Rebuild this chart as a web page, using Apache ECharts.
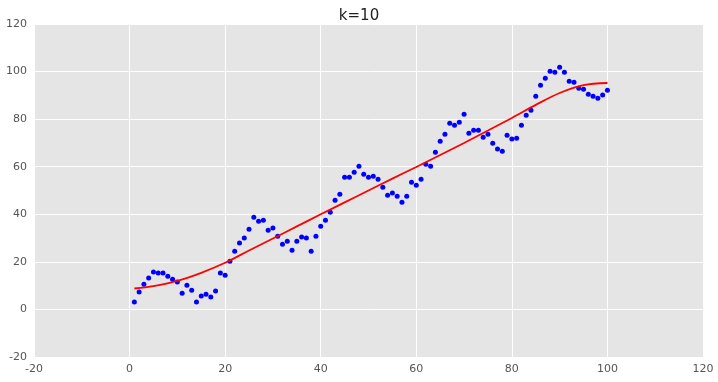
<!DOCTYPE html>
<html>
<head>
<meta charset="utf-8">
<script src="https://cdn.jsdelivr.net/npm/echarts@6/dist/echarts.min.js"></script>
<style>
html,body{margin:0;padding:0;background:#fff;}
#chart{width:718px;height:382px;}
</style>
</head>
<body>
<div id="chart"></div>
<script>
// Scatter observations (x = 1..100)
var pointY = [
  3.1, 7.3, 10.6, 13.2, 15.7, 15.3, 15.3, 14.0, 12.7, 11.5,
  6.8, 10.2, 8.1, 3.1, 5.6, 6.4, 5.2, 7.7, 15.3, 14.4,
  20.3, 24.5, 27.9, 30.0, 33.7, 38.8, 37.1, 37.5, 33.3, 34.2,
  30.8, 27.4, 28.7, 24.9, 28.7, 30.4, 30.0, 24.5, 30.8, 35.0,
  37.5, 40.9, 45.9, 48.4, 55.6, 55.6, 57.7, 60.2, 56.8, 55.6,
  56.0, 54.7, 51.4, 48.0, 48.9, 47.6, 45.1, 47.6, 53.5, 52.2,
  54.7, 61.0, 60.2, 66.1, 70.7, 73.7, 78.3, 77.4, 78.7, 82.1,
  74.1, 75.3, 75.3, 72.4, 73.7, 69.9, 67.4, 66.5, 73.2, 71.6,
  72.0, 77.4, 81.6, 83.7, 89.6, 94.2, 97.2, 100.1, 99.7, 101.8,
  99.7, 95.9, 95.5, 93.0, 92.6, 90.5, 89.6, 88.8, 90.1, 92.1
];
var firstX = 1;

// Fitted curve samples
var curveX = [1, 5, 10, 15, 20, 25, 30, 35, 40, 45, 50, 55, 60, 65, 70, 75, 80, 85, 90, 95, 100];
var curveY = [8.8, 9.8, 12.0, 15.4, 19.6, 24.8, 29.8, 34.9, 40.0, 45.0, 50.0, 55.0, 59.9, 64.9, 70.0, 75.2, 80.5, 86.0, 91.0, 94.3, 95.2];

var xTicks = [-20, 0, 20, 40, 60, 80, 100, 120];
var yTicks = [-20, 0, 20, 40, 60, 80, 100, 120];
var titleText = 'k=10';

var scatterData = pointY.map(function (v, i) { return [firstX + i, v]; });
var curveData = curveX.map(function (x, i) { return [x, curveY[i]]; });

var chart = echarts.init(document.getElementById('chart'), null, {renderer: 'canvas'});
var labelStyle = {color: '#555555', fontSize: 11, fontFamily: 'DejaVu Sans'};
chart.setOption({
  animation: false,
  backgroundColor: '#ffffff',
  title: {
    text: titleText,
    left: 'center',
    top: 4,
    textStyle: {fontSize: 15, fontWeight: 'normal', color: '#222', fontFamily: 'DejaVu Sans'}
  },
  grid: {left: 34, right: 15, top: 24, bottom: 25, show: true, backgroundColor: '#E5E5E5', borderWidth: 0},
  xAxis: {
    type: 'value',
    min: xTicks[0], max: xTicks[xTicks.length - 1], interval: 20,
    axisLine: {show: false}, axisTick: {show: false},
    axisLabel: Object.assign({margin: 7}, labelStyle),
    splitLine: {show: true, lineStyle: {color: '#ffffff', width: 1}}
  },
  yAxis: {
    type: 'value',
    min: yTicks[0], max: yTicks[yTicks.length - 1], interval: 20,
    axisLine: {show: false}, axisTick: {show: false},
    axisLabel: Object.assign({margin: 7}, labelStyle),
    splitLine: {show: true, lineStyle: {color: '#ffffff', width: 1}}
  },
  series: [
    {
      type: 'scatter',
      data: scatterData,
      symbol: 'circle',
      symbolSize: 5,
      itemStyle: {color: '#0000FF', opacity: 1},
      z: 2
    },
    {
      type: 'line',
      data: curveData,
      smooth: 0.35,
      showSymbol: false,
      symbol: 'none',
      lineStyle: {color: '#FF0000', width: 1.8},
      z: 3
    }
  ]
});
</script>
</body>
</html>
